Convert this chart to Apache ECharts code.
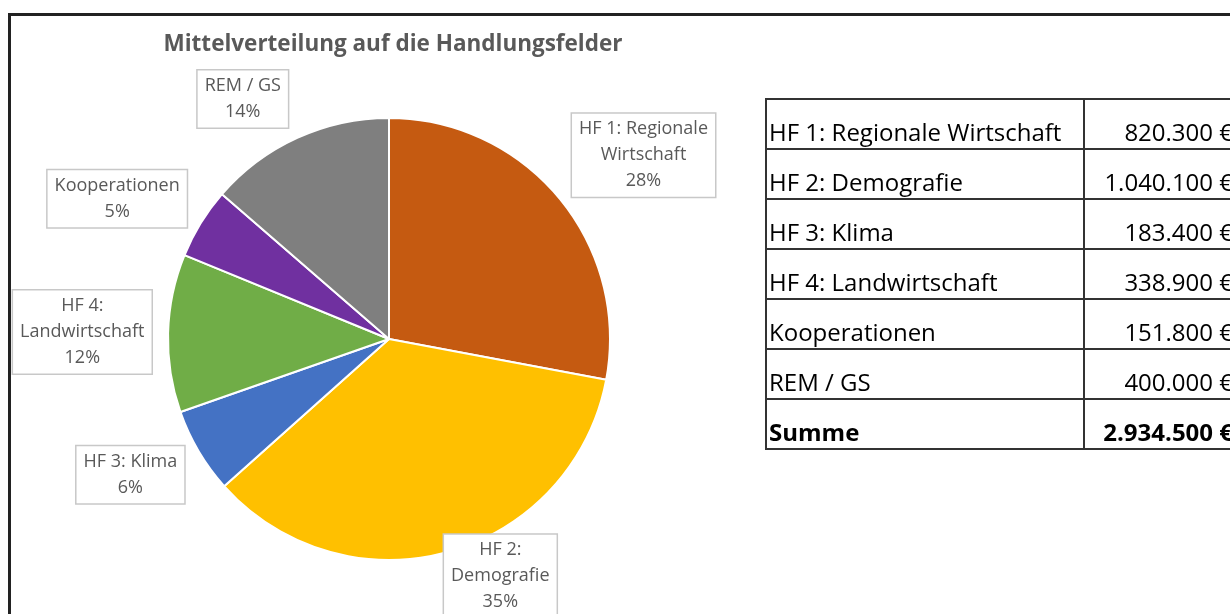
<!DOCTYPE html>
<html>
<head>
<meta charset="utf-8">
<script src="https://cdn.jsdelivr.net/npm/echarts@6/dist/echarts.min.js"></script>
<style>
    html, body { margin: 0; padding: 0; background: #fff; }
    #wrap { position: relative; width: 1230px; height: 614px; overflow: hidden; }
    #frame {
        position: absolute; left: 8px; top: 13px; width: 1400px; height: 800px;
        border-top: 3px solid #222; border-left: 3px solid #222; box-sizing: border-box;
    }
    #chart { position: absolute; left: 0; top: 0; width: 1230px; height: 614px; }
    #table {
        position: absolute; left: 765px; top: 98px; width: 480px; table-layout: fixed;
        border-collapse: collapse;
        font-family: "Open Sans", "Noto Sans", sans-serif; font-size: 24px; color: #000;
    }
    #table td {
        border: 2px solid #333; height: 50px; padding: 15px 4px 0 2px;
        box-sizing: border-box; white-space: nowrap; line-height: 32px; overflow: hidden;
    }
    #table td.name { width: 318px; }
    #table td.num { text-align: right; width: 162px; padding-right: 12px; }
    #table tr.sum td { font-weight: bold; }
</style>
</head>
<body>
<div id="wrap">
    <div id="frame"></div>
    <div id="chart"></div>
    <table id="table"></table>
</div>
<script>
const categories = ['HF 1: Regionale Wirtschaft', 'HF 2: Demografie', 'HF 3: Klima', 'HF 4: Landwirtschaft', 'Kooperationen', 'REM / GS'];
const pieLabels = ['HF 1: Regionale\nWirtschaft', 'HF 2:\nDemografie', 'HF 3: Klima', 'HF 4:\nLandwirtschaft', 'Kooperationen', 'REM / GS'];
const amounts = [820300, 1040100, 183400, 338900, 151800, 400000];
const colors = ['#C55A11', '#FFC000', '#4472C4', '#70AD47', '#7030A0', '#7F7F7F'];
const sumLabel = 'Summe';

const total = amounts.reduce((a, b) => a + b, 0);
const fmt = v => v.toLocaleString('de-DE') + ' €';

// table on the right
const table = document.getElementById('table');
categories.forEach((name, i) => {
    const tr = document.createElement('tr');
    tr.innerHTML = `<td class="name">${name}</td><td class="num">${fmt(amounts[i])}</td>`;
    table.appendChild(tr);
});
const sumRow = document.createElement('tr');
sumRow.className = 'sum';
sumRow.innerHTML = `<td class="name">${sumLabel}</td><td class="num">${fmt(total)}</td>`;
table.appendChild(sumRow);

const center = [389, 339];
const radius = 221;
const labelGap = 7;
// small hand tweaks of the label boxes, like the Excel placement
const labelNudge = [[15, 15], [36, -33], [-8, -12], [-8, 1], [-13, 19], [-33, 8]];

// mid angle of each slice, clockwise from 12 o'clock
const midAngles = [];
let acc = 0;
amounts.forEach(v => {
    midAngles.push((acc + v / 2) / total * Math.PI * 2);
    acc += v;
});

// distance of the label box centre so that its nearest point sits just outside the pie
function labelDistance(a, w, h) {
    const ux = Math.abs(Math.sin(a)), uy = Math.abs(Math.cos(a));
    let lo = 0, hi = 600;
    for (let k = 0; k < 40; k++) {
        const d = (lo + hi) / 2;
        const dx = Math.max(d * ux - w, 0), dy = Math.max(d * uy - h, 0);
        if (Math.hypot(dx, dy) < radius + labelGap) lo = d; else hi = d;
    }
    return lo;
}

const chart = echarts.init(document.getElementById('chart'));
chart.setOption({
    animation: false,
    color: colors,
    title: {
        text: 'Mittelverteilung auf die Handlungsfelder',
        left: 388,
        top: 28,
        textAlign: 'center',
        textStyle: { fontFamily: 'Open Sans', fontSize: 22.5, fontWeight: 'bold', color: '#595959' }
    },
    series: [{
        type: 'pie',
        center: center,
        radius: radius,
        startAngle: 90,
        clockwise: true,
        itemStyle: { borderColor: '#fff', borderWidth: 2 },
        labelLine: { show: false },
        label: {
            show: true,
            position: 'inside',
            formatter: p => pieLabels[p.dataIndex] + '\n' + Math.round(p.percent) + '%',
            fontFamily: 'Open Sans',
            fontSize: 18,
            lineHeight: 26,
            color: '#595959',
            align: 'center',
            backgroundColor: '#fff',
            borderColor: '#C8C8C8',
            borderWidth: 1.5,
            padding: [3, 7, 2, 7]
        },
        labelLayout: p => {
            const i = p.dataIndex;
            const a = midAngles[i];
            const w = p.labelRect.width / 2, h = p.labelRect.height / 2;
            const d = labelDistance(a, w, h);
            return {
                x: center[0] + d * Math.sin(a) + labelNudge[i][0],
                y: center[1] - d * Math.cos(a) + labelNudge[i][1],
                align: 'center',
                verticalAlign: 'middle'
            };
        },
        data: categories.map((name, i) => ({ name: name, value: amounts[i] }))
    }]
});
</script>
</body>
</html>
